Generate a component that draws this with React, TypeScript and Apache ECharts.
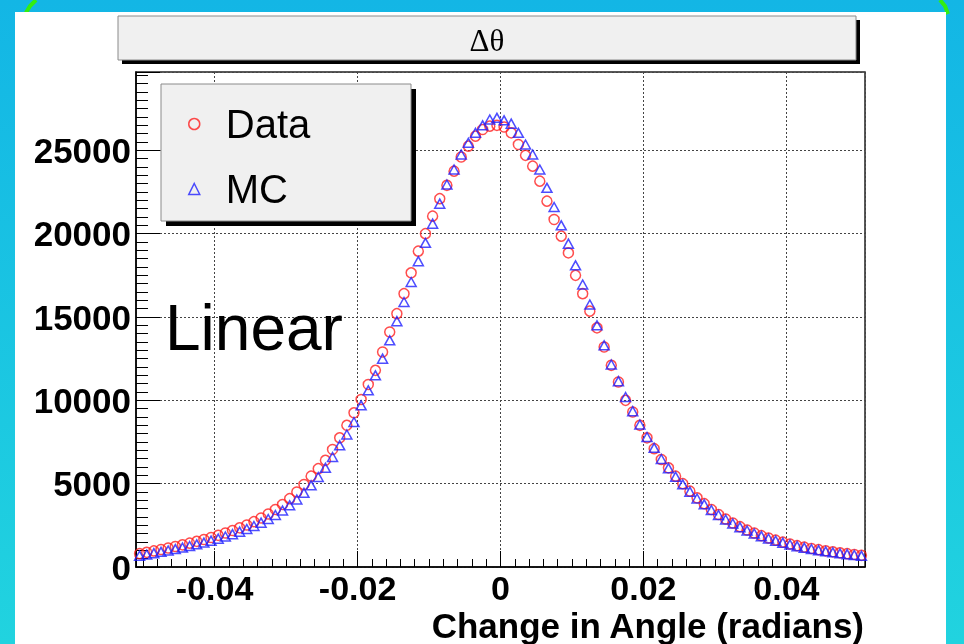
import React, { useEffect, useRef } from 'react';
import * as echarts from 'echarts';

// Histogram binning (bin centres from -0.0505 to 0.0505, width 0.001)
const BIN_LO = -0.0505;
const BIN_W = 0.001;

const DATA_COUNTS = [
  800, 880, 965, 1050, 1140, 1230, 1330, 1430, 1540, 1650,
  1770, 1900, 2040, 2190, 2350, 2520, 2720, 2940, 3180, 3450,
  3750, 4100, 4500, 4950, 5450, 5900, 6400, 7050, 7750, 8500,
  9250, 10050, 10950, 11800, 12900, 14100, 15200, 16400, 17650, 18950,
  20000, 21050, 22100, 22900, 23750, 24600, 25250, 25850, 26250, 26450,
  26500, 26400, 26050, 25350, 24700, 24050, 23150, 21950, 20850, 19850,
  18850, 17500, 16400, 15350, 14350, 13200, 12100, 11100, 10000, 9300,
  8500, 7750, 7100, 6450, 5950, 5450, 5000, 4550, 4150, 3800,
  3450, 3150, 2880, 2640, 2420, 2220, 2040, 1880, 1740, 1610,
  1490, 1380, 1280, 1190, 1110, 1040, 970, 910, 850, 800,
  750, 700,
];

const MC_COUNTS = [
  680, 750, 830, 910, 990, 1075, 1165, 1260, 1360, 1465,
  1580, 1700, 1830, 1970, 2120, 2280, 2460, 2660, 2880, 3120,
  3390, 3700, 4050, 4450, 4900, 5400, 5950, 6600, 7300, 7950,
  8700, 9700, 10600, 11500, 12500, 13600, 14750, 15900, 17100, 18350,
  19450, 20600, 21800, 22950, 23850, 24750, 25450, 26050, 26500, 26850,
  26950, 26800, 26600, 26050, 25350, 24750, 23850, 22750, 21600, 20500,
  19400, 18100, 16950, 15750, 14500, 13300, 12150, 11150, 10200, 9350,
  8550, 7800, 7150, 6480, 5930, 5420, 4960, 4520, 4110, 3760,
  3420, 3120, 2850, 2610, 2390, 2190, 2010, 1850, 1710, 1580,
  1460, 1350, 1250, 1160, 1080, 1010, 940, 880, 820, 770,
  720, 670,
];

const X_TICK_LABELS = ['-0.04', '-0.02', '0', '0.02', '0.04'];
const Y_TICK_LABELS = ['0', '5000', '10000', '15000', '20000', '25000'];
const SERIES_NAMES = ['Data', 'MC'];
const TITLE = 'Δθ';
const X_TITLE = 'Change in Angle (radians)';
const NOTE = 'Linear';

const FONT = '"Liberation Sans", Arial, Helvetica, sans-serif';
const SERIF = '"Liberation Serif", "DejaVu Serif", serif';

function toPoints(counts: number[]) {
  return counts.map((c, i) => [Number((BIN_LO + i * BIN_W).toFixed(4)), c]);
}

function fmtX(v: number) {
  const s = Math.abs(v) < 1e-9 ? '0' : v.toFixed(2);
  return X_TICK_LABELS.includes(s) && Math.abs(Number(s) - v) < 1e-6 ? s : '';
}
function fmtY(v: number) {
  const s = String(Math.round(v));
  return Y_TICK_LABELS.includes(s) ? s : '';
}

export default function App() {
  const ref = useRef<HTMLDivElement>(null);
  useEffect(() => {
    if (!ref.current) return;
    const chart = echarts.init(ref.current, null, { renderer: 'svg' });
    const option: any = {
      animation: false,
      backgroundColor: 'transparent',
      graphic: [
        {
          type: 'rect', z: -10, silent: true,
          shape: { x: 0, y: 0, width: 964, height: 644 },
          style: {
            fill: new echarts.graphic.LinearGradient(0, 0, 0, 1, [
              { offset: 0, color: '#13b6e5' },
              { offset: 1, color: '#21d3df' },
            ]),
          },
        },
        {
          type: 'polyline', z: -9, silent: true,
          shape: { points: [[24, 16], [30, 6], [36, 0]] },
          style: { stroke: '#33ee11', lineWidth: 4, fill: 'none' },
        },
        {
          type: 'polyline', z: -9, silent: true,
          shape: { points: [[940, 0], [945, 6], [948, 14]] },
          style: { stroke: '#33ee11', lineWidth: 4, fill: 'none' },
        },
        {
          type: 'rect', z: -8, silent: true,
          shape: { x: 15, y: 12, width: 931, height: 640 },
          style: { fill: '#ffffff' },
        },
        // title box
        {
          type: 'rect', z: 10, silent: true,
          shape: { x: 122, y: 20, width: 738, height: 44 },
          style: { fill: '#000' },
        },
        {
          type: 'rect', z: 11, silent: true,
          shape: { x: 118, y: 16, width: 738, height: 44 },
          style: { fill: '#f0f0f0', stroke: '#8a8a8a', lineWidth: 1 },
        },
        {
          type: 'text', z: 12, silent: true,
          x: 487, y: 40,
          style: {
            text: TITLE, fill: '#000', font: `31px ${SERIF}`,
            align: 'center', verticalAlign: 'middle',
          },
        },
        // legend box
        {
          type: 'rect', z: 3, silent: true,
          shape: { x: 166, y: 89, width: 250, height: 137 },
          style: { fill: '#000' },
        },
        {
          type: 'rect', z: 3, silent: true,
          shape: { x: 161, y: 84, width: 250, height: 137 },
          style: { fill: '#f0f0f0', stroke: '#8a8a8a', lineWidth: 1 },
        },
        {
          type: 'text', z: 12, silent: true,
          x: 165, y: 328,
          style: {
            text: NOTE, fill: '#000', font: `64px ${FONT}`,
            align: 'left', verticalAlign: 'middle',
          },
        },
      ],
      legend: {
        show: true,
        orient: 'vertical',
        left: 161,
        top: 84,
        padding: [20, 0, 0, 27],
        itemWidth: 11,
        itemHeight: 11,
        itemGap: 25,
        selectedMode: false,
        backgroundColor: 'transparent',
        itemStyle: { borderWidth: 1.5 },
        textStyle: {
          fontSize: 40, fontFamily: FONT, color: '#000',
          padding: [0, 0, 0, 21],
        },
        data: SERIES_NAMES,
      },
      grid: {
        left: 136, right: 99, top: 72, bottom: 77,
        show: true, borderColor: '#222', borderWidth: 1.5,
        backgroundColor: 'transparent',
        outerBoundsMode: 'none',
        containLabel: false,
      },
      xAxis: {
        type: 'value',
        min: -0.051,
        max: 0.051,
        splitNumber: 5,
        minInterval: 0.02,
        maxInterval: 0.02,
        axisLine: { show: true, onZero: false, lineStyle: { color: '#000', width: 1.5 } },
        axisTick: { show: true, inside: true, length: 16, lineStyle: { color: '#000', width: 1 } },
        minorTick: { show: true, splitNumber: 10, length: 8, lineStyle: { color: '#000', width: 1 } },
        splitLine: { show: true, lineStyle: { color: '#444', width: 1, type: [2, 2] } },
        axisLabel: {
          margin: 4, fontSize: 34, fontWeight: 'bold', color: '#000', fontFamily: FONT,
          formatter: fmtX, hideOverlap: false,
        },
        name: X_TITLE,
        nameLocation: 'end',
        nameGap: -1,
        nameMoveOverlap: false,
        nameTextStyle: {
          fontSize: 35, fontWeight: 'bold', color: '#000', fontFamily: FONT,
          align: 'right', verticalAlign: 'top', padding: [41, 0, 0, 0],
        },
      },
      yAxis: {
        type: 'value',
        min: 0,
        max: 29700,
        interval: 5000,
        axisLine: { show: true, onZero: false, lineStyle: { color: '#000', width: 1.5 } },
        axisTick: { show: true, inside: true, length: 24, lineStyle: { color: '#000', width: 1 } },
        minorTick: { show: true, splitNumber: 10, length: 12, lineStyle: { color: '#000', width: 1 } },
        splitLine: { show: true, lineStyle: { color: '#444', width: 1, type: [2, 2] } },
        axisLabel: {
          margin: 5, fontSize: 35, fontWeight: 'bold', color: '#000', fontFamily: FONT,
          formatter: fmtY, padding: [6, 0, 0, 0], hideOverlap: false,
        },
      },
      series: [
        {
          name: SERIES_NAMES[0],
          type: 'scatter',
          symbol: 'circle',
          symbolSize: 10,
          itemStyle: { color: 'rgba(0,0,0,0)', borderColor: '#ff2020', borderWidth: 1.5 },
          emphasis: { disabled: true },
          data: toPoints(DATA_COUNTS),
          z: 2,
        },
        {
          name: SERIES_NAMES[1],
          type: 'scatter',
          symbol: 'triangle',
          symbolSize: [10, 9],
          itemStyle: { color: 'rgba(0,0,0,0)', borderColor: '#2020ff', borderWidth: 1.5 },
          emphasis: { disabled: true },
          data: toPoints(MC_COUNTS),
          z: 2,
        },
      ],
    };
    chart.setOption(option);
    return () => chart.dispose();
  }, []);
  return (
    <div
      ref={ref}
      style={{ position: 'fixed', left: 0, top: 0, width: 964, height: 644 }}
    />
  );
}
